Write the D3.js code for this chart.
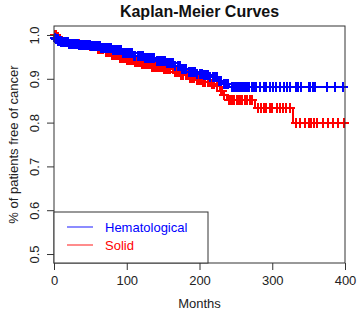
<!DOCTYPE html>
<html>
<head>
<meta charset="utf-8">
<script src="https://cdn.jsdelivr.net/npm/d3@7"></script>
<style>
  body { margin: 0; background: #fff; }
  svg text { font-family: "Liberation Sans", Arial, sans-serif; }
</style>
</head>
<body>
<div id="chart"></div>
<script>
// Kaplan-Meier step data (months, survival)
const hemaTimes = [0, 1, 3, 6, 10, 20, 35, 50, 65, 80, 95, 110, 125, 140, 155, 165, 174, 185, 195, 205, 215, 225, 232, 240];
const hemaSurv  = [1.0, 0.994, 0.99, 0.986, 0.983, 0.98, 0.977, 0.974, 0.97, 0.965, 0.959, 0.953, 0.947, 0.941, 0.935, 0.929, 0.922, 0.916, 0.912, 0.908, 0.904, 0.896, 0.889, 0.882];
const hemaCensor = [1, 2, 3, 4, 5, 6, 7, 8, 9, 10, 11, 12, 14, 15, 16, 18, 19, 21, 22, 24, 25, 27, 28, 30, 32, 33, 35, 37, 38, 40,
  42, 44, 45, 47, 49, 51, 53, 55, 57, 59, 61, 63, 65, 67, 70, 72, 74, 76, 78, 81, 83, 85, 88, 90, 92, 95, 97, 100, 102, 104,
  107, 110, 112, 115, 117, 120, 122, 125, 128, 130, 133, 136, 138, 141, 144, 147, 150, 152, 155, 158, 161, 164, 167, 170,
  173, 176, 179, 182, 185, 188, 191, 194, 197, 200, 203, 206, 209, 212, 215, 218, 221, 224, 227, 230, 233, 236, 239,
  244, 247, 250, 253, 256, 258, 260, 262, 265, 268, 272, 275, 278, 283, 288, 292, 297, 301, 305, 311, 316, 320, 324,
  333, 336, 340, 350, 352, 356, 359, 375, 386, 397];

const solidTimes = [0, 4, 6, 10, 20, 35, 50, 60, 70, 80, 90, 100, 110, 120, 135, 150, 165, 175, 185, 195, 205, 215, 222, 228, 233, 238, 276, 329];
const solidSurv  = [1.0, 0.995, 0.986, 0.983, 0.98, 0.977, 0.974, 0.968, 0.962, 0.955, 0.948, 0.943, 0.938, 0.934, 0.928, 0.923, 0.916, 0.908, 0.902, 0.897, 0.893, 0.889, 0.883, 0.872, 0.862, 0.852, 0.833, 0.80];
const solidCensor = [1, 2, 3, 5, 6, 8, 9, 11, 13, 14, 16, 18, 20, 23, 25, 27, 29, 31, 34, 36, 39, 41, 43, 46, 48, 50, 52, 54,
  56, 58, 60, 62, 64, 66, 68, 71, 73, 75, 77, 80, 82, 84, 87, 89, 91, 94, 96, 99, 101, 103, 106, 108, 111, 113, 116, 118,
  121, 124, 127, 129, 132, 135, 137, 140, 143, 146, 149, 151, 154, 157, 160, 163, 166, 169, 172, 175, 178, 181, 184, 187,
  190, 193, 196, 199, 202, 205, 208, 211, 214, 217, 220, 224, 229, 231, 234, 240, 243, 246, 248, 251, 253, 256, 259, 262,
  265, 269, 272, 280, 284, 288, 291, 297, 300, 306, 311, 315, 319, 324, 332, 338, 345, 350, 353, 357, 361, 370, 377, 384, 391, 398];

const xTicks = [0, 100, 200, 300, 400];
const yTicks = [0.5, 0.6, 0.7, 0.8, 0.9, 1.0];
const groupNames = ["Hematological", "Solid"];
const groupColors = ["#0000ff", "#ff0000"];

const width = 358, height = 315;
const box = { left: 54, right: 345, top: 26, bottom: 263 };

const svg = d3.select("#chart").append("svg")
  .attr("width", width)
  .attr("height", height);

const x = d3.scaleLinear().domain([0, 400]).range([box.left, box.right]);
const y = d3.scaleLinear().domain([0.4795, 1.0205]).range([box.bottom, box.top]);

// step lookup for censor marks
function survAt(times, surv, t) {
  const i = d3.bisectRight(times, t) - 1;
  return surv[Math.max(0, i)];
}

function drawGroup(times, surv, censor, color) {
  const end = d3.max(censor);
  const pts = times.map((t, i) => [t, surv[i]]);
  pts.push([end, surv[surv.length - 1]]);
  const line = d3.line()
    .x(d => x(d[0]))
    .y(d => y(d[1]))
    .curve(d3.curveStepAfter);
  const g = svg.append("g").attr("shape-rendering", "crispEdges");
  g.append("path")
    .attr("d", line(pts))
    .attr("fill", "none")
    .attr("stroke", color)
    .attr("stroke-width", 2);
  const s = 5;
  g.selectAll("path.cens")
    .data(censor)
    .enter()
    .append("path")
    .attr("class", "cens")
    .attr("d", t => {
      const cx = x(t), cy = y(survAt(times, surv, t));
      return `M${cx - s},${cy}H${cx + s}M${cx},${cy - s}V${cy + s}`;
    })
    .attr("stroke", color)
    .attr("stroke-width", 2);
}

drawGroup(solidTimes, solidSurv, solidCensor, groupColors[1]);
drawGroup(hemaTimes, hemaSurv, hemaCensor, groupColors[0]);

// plot box
svg.append("rect")
  .attr("x", box.left).attr("y", box.top)
  .attr("width", box.right - box.left).attr("height", box.bottom - box.top)
  .attr("fill", "none").attr("stroke", "#333").attr("stroke-width", 1);

// x axis
const xAxis = svg.append("g")
  .attr("transform", `translate(0,${box.bottom})`)
  .call(d3.axisBottom(x).tickValues(xTicks).tickSize(7).tickPadding(6).tickFormat(d3.format("d")));
xAxis.select(".domain").remove();
xAxis.selectAll("line").attr("stroke", "#333");
xAxis.selectAll("text").attr("font-size", 13).attr("fill", "#222")
  .style("font-family", "'Liberation Sans', Arial, sans-serif");

// y axis (labels vertical like R)
const yAxis = svg.append("g")
  .attr("transform", `translate(${box.left},0)`)
  .call(d3.axisLeft(y).tickValues(yTicks).tickSize(7).tickFormat(d3.format(".1f")));
yAxis.select(".domain").remove();
yAxis.selectAll("line").attr("stroke", "#333");
yAxis.selectAll("text")
  .attr("x", null).attr("dy", null)
  .attr("text-anchor", "middle")
  .attr("transform", "translate(-15,0) rotate(-90)")
  .attr("font-size", 13).attr("fill", "#222")
  .style("font-family", "'Liberation Sans', Arial, sans-serif");

// title and axis labels
svg.append("text")
  .attr("x", (box.left + box.right) / 2).attr("y", 17)
  .attr("text-anchor", "middle")
  .attr("font-size", 16).attr("font-weight", "bold").attr("fill", "#111")
  .text("Kaplan-Meier Curves");

svg.append("text")
  .attr("x", (box.left + box.right) / 2).attr("y", 308)
  .attr("text-anchor", "middle")
  .attr("font-size", 13).attr("fill", "#222")
  .text("Months");

svg.append("text")
  .attr("transform", `translate(18,${(box.top + box.bottom) / 2}) rotate(-90)`)
  .attr("text-anchor", "middle")
  .attr("font-size", 13).attr("fill", "#222")
  .text("% of patients free of cancer");

// legend
const leg = svg.append("g");
leg.append("rect")
  .attr("x", box.left).attr("y", 212)
  .attr("width", 154).attr("height", box.bottom - 212)
  .attr("fill", "#fff").attr("stroke", "#333").attr("stroke-width", 1);
groupNames.forEach((name, i) => {
  const ly = 227 + i * 18;
  leg.append("line")
    .attr("x1", 67).attr("x2", 93).attr("y1", ly).attr("y2", ly)
    .attr("stroke", groupColors[i]).attr("stroke-width", 1.2).attr("opacity", 0.75);
  leg.append("text")
    .attr("x", 105).attr("y", ly + 5)
    .attr("font-size", 13).attr("fill", groupColors[i])
    .text(name);
});
</script>
</body>
</html>
